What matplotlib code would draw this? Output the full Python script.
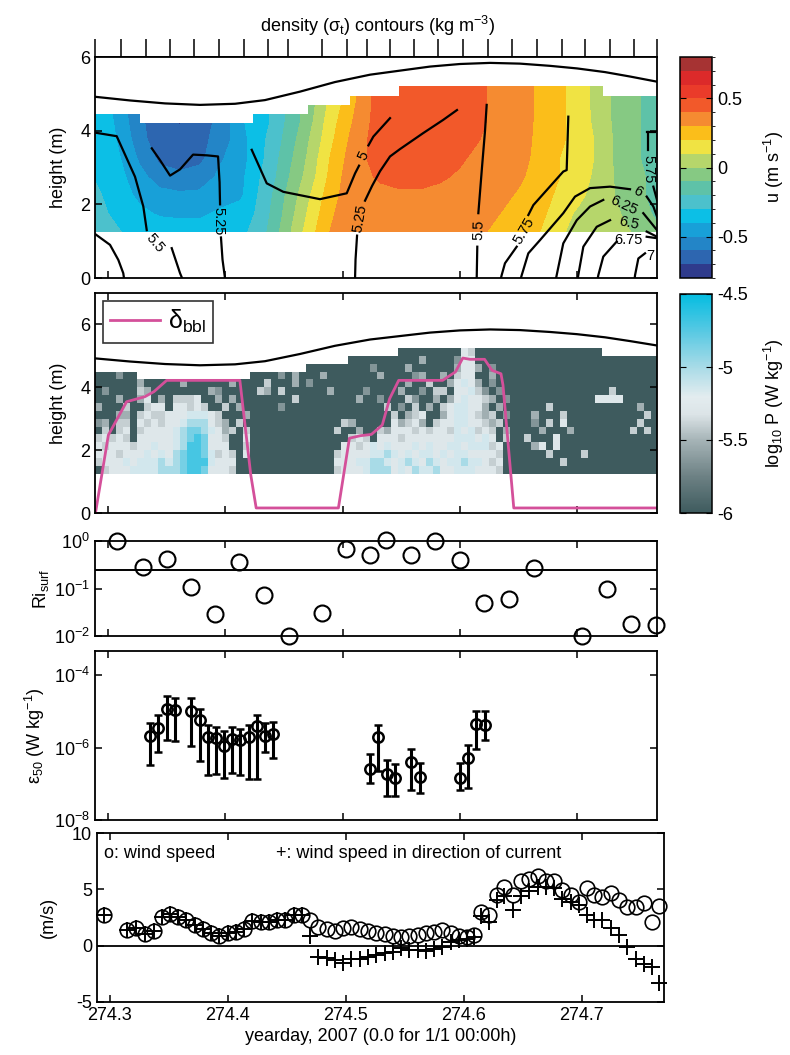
import numpy as np
import matplotlib
matplotlib.use('Agg')
import matplotlib.pyplot as plt
from matplotlib.colors import ListedColormap, BoundaryNorm, LinearSegmentedColormap

plt.rcParams['font.family'] = ['Liberation Sans', 'DejaVu Sans']
plt.rcParams['mathtext.fontset'] = 'custom'
plt.rcParams['mathtext.rm'] = 'Liberation Sans'
plt.rcParams['mathtext.it'] = 'Liberation Sans:italic'
plt.rcParams['axes.unicode_minus'] = False
plt.rcParams['font.size'] = 13
plt.rcParams['axes.linewidth'] = 1.3

# ---------------- data ----------------
# panel 1: along-channel velocity u (m/s), columns = time, values bottom -> top
u_t = [274.289, 274.302, 274.315, 274.327, 274.344, 274.361, 274.378, 274.396,
       274.413, 274.425, 274.438, 274.451, 274.464, 274.477, 274.489, 274.502,
       274.515, 274.532, 274.549, 274.566, 274.583, 274.600, 274.617, 274.634,
       274.651, 274.668, 274.685, 274.702, 274.719, 274.737, 274.754, 274.768]
u_h = [1.25, 1.75, 2.25, 2.75, 3.25, 3.75, 4.25, 4.75, 5.25]
u_cols = [
    [-0.22, -0.24, -0.27, -0.31, -0.33, -0.34, -0.35, -0.35, -0.35],
    [-0.25, -0.31, -0.34, -0.36, -0.36, -0.37, -0.38, -0.40, -0.40],
    [-0.32, -0.35, -0.38, -0.40, -0.42, -0.45, -0.48, -0.50, -0.50],
    [-0.33, -0.38, -0.42, -0.46, -0.52, -0.57, -0.58, -0.60, -0.60],
    [-0.35, -0.41, -0.46, -0.56, -0.62, -0.65, -0.66, -0.66, -0.66],
    [-0.35, -0.42, -0.48, -0.58, -0.64, -0.66, -0.71, -0.70, -0.70],
    [-0.35, -0.42, -0.48, -0.55, -0.63, -0.64, -0.65, -0.65, -0.65],
    [-0.33, -0.38, -0.45, -0.48, -0.51, -0.55, -0.57, -0.57, -0.57],
    [-0.32, -0.35, -0.42, -0.43, -0.45, -0.45, -0.42, -0.42, -0.42],
    [-0.28, -0.30, -0.32, -0.33, -0.35, -0.35, -0.35, -0.35, -0.35],
    [-0.18, -0.20, -0.22, -0.25, -0.27, -0.28, -0.30, -0.30, -0.30],
    [-0.05, -0.08, -0.10, -0.13, -0.15, -0.18, -0.20, -0.20, -0.20],
    [0.08, 0.05, 0.02, -0.02, -0.05, -0.07, -0.10, -0.10, -0.10],
    [0.20, 0.17, 0.14, 0.10, 0.08, 0.05, 0.02, 0.00, 0.00],
    [0.30, 0.28, 0.25, 0.22, 0.20, 0.17, 0.15, 0.12, 0.12],
    [0.35, 0.34, 0.33, 0.32, 0.30, 0.28, 0.25, 0.22, 0.22],
    [0.37, 0.37, 0.38, 0.38, 0.38, 0.37, 0.35, 0.33, 0.33],
    [0.36, 0.37, 0.38, 0.41, 0.44, 0.45, 0.45, 0.45, 0.45],
    [0.35, 0.37, 0.39, 0.42, 0.45, 0.47, 0.48, 0.48, 0.48],
    [0.35, 0.37, 0.39, 0.42, 0.45, 0.47, 0.48, 0.48, 0.48],
    [0.34, 0.36, 0.38, 0.41, 0.44, 0.46, 0.47, 0.47, 0.47],
    [0.33, 0.35, 0.37, 0.39, 0.41, 0.44, 0.45, 0.45, 0.45],
    [0.31, 0.33, 0.35, 0.36, 0.38, 0.40, 0.42, 0.42, 0.42],
    [0.28, 0.30, 0.32, 0.33, 0.34, 0.35, 0.36, 0.36, 0.36],
    [0.24, 0.26, 0.29, 0.31, 0.32, 0.33, 0.34, 0.34, 0.34],
    [0.20, 0.23, 0.26, 0.27, 0.28, 0.28, 0.28, 0.28, 0.28],
    [0.12, 0.14, 0.17, 0.20, 0.20, 0.22, 0.22, 0.22, 0.22],
    [0.05, 0.08, 0.12, 0.15, 0.15, 0.15, 0.15, 0.15, 0.15],
    [0.05, 0.05, 0.05, 0.06, 0.08, 0.08, 0.06, 0.05, 0.05],
    [0.02, 0.00, -0.02, -0.03, -0.05, -0.05, -0.05, -0.05, -0.05],
    [-0.02, -0.06, -0.08, -0.08, -0.10, -0.10, -0.10, -0.10, -0.10],
    [-0.08, -0.12, -0.15, -0.15, -0.15, -0.15, -0.15, -0.15, -0.15],
]
u_colors = ['#2f3b8c', '#2d66b0', '#2385c7', '#18a0d8', '#0cbfe6', '#4cc1cc',
            '#5ec2a8', '#86c983', '#b6d66b', '#f0e343', '#fbbe1a', '#f58b31',
            '#f2592a', '#ea3b2a', '#dc2a2a', '#a63333']

# top of the ADCP data (step boundary)
top_t = [274.2889, 274.3273, 274.4236, 274.4705, 274.5063, 274.5481, 274.7220, 274.7680]
top_h = [4.45, 4.22, 4.45, 4.70, 4.95, 5.20, 4.95]

# sea surface
surf_t = [274.2889, 274.3188, 274.3486, 274.3784, 274.4083, 274.4338, 274.4637, 274.4935,
          274.5234, 274.5489, 274.5745, 274.6001, 274.6257, 274.6512, 274.6768, 274.6998,
          274.7237, 274.7450, 274.7680]
surf_h = [4.92, 4.82, 4.74, 4.70, 4.73, 4.83, 5.06, 5.32, 5.52, 5.63, 5.74, 5.81, 5.84,
          5.82, 5.76, 5.69, 5.59, 5.47, 5.33]

# CTD profile times (top ticks)
ctd_t = [274.2889, 274.3111, 274.3321, 274.3529, 274.3736, 274.3946, 274.4162, 274.4367,
         274.4537, 274.4827, 274.5035, 274.5206, 274.5404, 274.5609, 274.5816, 274.6029,
         274.6237, 274.6442, 274.6655, 274.6868, 274.7067, 274.7280, 274.7487, 274.7678]

# sigma_t contour pieces (time, height)
sigma_lines = [
    ([274.2883, 274.3074, 274.3230, 274.3301, 274.3330], [3.95, 3.85, 2.75, 1.94, 1.30]),
    ([274.3543, 274.3614, 274.3631], [0.81, 0.13, 0.0]),
    ([274.2883, 274.3017, 274.3088, 274.3130, 274.3136], [1.21, 0.90, 0.49, 0.13, 0.0]),
    ([274.3373, 274.3443, 274.3529, 274.3614, 274.3725, 274.3844, 274.3938, 274.3951, 274.3955],
     [3.52, 3.20, 2.78, 2.95, 3.35, 3.33, 3.30, 2.60, 2.00]),
    ([274.3963, 274.3976, 274.3997], [1.10, 0.50, 0.0]),
    ([274.4225, 274.4353, 274.4494, 274.4807, 274.5035, 274.5106, 274.5140],
     [3.48, 2.57, 2.34, 2.14, 2.30, 2.84, 3.05]),
    ([274.5220, 274.5262, 274.5404], [3.60, 3.84, 4.34]),
    ([274.5106, 274.5110, 274.5123], [0.0, 0.50, 1.15]),
    ([274.5191, 274.5251, 274.5319, 274.5404, 274.5489, 274.5685, 274.5856, 274.5975],
     [2.10, 2.50, 2.90, 3.30, 3.50, 3.93, 4.29, 4.56]),
    ([274.6228, 274.6214, 274.6188, 274.6157], [4.70, 4.00, 3.00, 1.76]),
    ([274.6148, 274.6143], [0.85, 0.0]),
    ([274.6924, 274.6910, 274.6881, 274.6626, 274.6583], [4.38, 2.93, 2.89, 1.98, 1.71]),
    ([274.6484, 274.6384, 274.6356, 274.6350], [0.85, 0.40, 0.08, 0.0]),
    ([274.6520, 274.6527, 274.6583, 274.6683, 274.6881, 274.6981, 274.7109, 274.7280, 274.7450],
     [0.0, 0.08, 0.67, 1.03, 1.76, 2.21, 2.44, 2.48, 2.41]),
    ([274.7592, 274.7649, 274.7680], [2.21, 1.94, 1.67]),
    ([274.6820, 274.6825, 274.6881, 274.6996, 274.7109, 274.7222], [0.0, 0.08, 0.94, 1.57, 1.94, 2.12]),
    ([274.7563, 274.7680], [1.76, 1.30]),
    ([274.7005, 274.7009, 274.7052, 274.7166, 274.7280], [0.0, 0.08, 0.85, 1.39, 1.57]),
    ([274.7592, 274.7680], [1.26, 1.12]),
    ([274.7175, 274.7180, 274.7222, 274.7337], [0.0, 0.08, 0.58, 0.99]),
    ([274.7592, 274.7680], [1.12, 1.08]),
    ([274.7490, 274.7493, 274.7521, 274.7578], [0.0, 0.08, 0.53, 0.67]),
    ([274.7592, 274.7663], [3.97, 3.97]),
    ([274.7606, 274.7606], [3.97, 3.48]),
    ([274.7649, 274.7680], [2.48, 2.12]),
]
sigma_labels = [
    ('5.5', 274.3401, 0.95, -50), ('5.25', 274.3945, 1.55, -90),
    ('5', 274.5178, 3.32, 65), ('5.25', 274.5152, 1.62, 80),
    ('5.5', 274.6163, 1.32, 88), ('5.75', 274.6545, 1.28, 60),
    ('6', 274.7520, 2.34, -30), ('6.25', 274.7395, 1.98, -25),
    ('6.5', 274.7445, 1.50, -12), ('6.75', 274.7437, 1.02, 0),
    ('7', 274.7625, 0.60, 0), ('5.75', 274.7606, 2.95, -90),
]

# panel 2: log10 P, one char per cell (digit -> level, '.' = no data), rows top -> bottom
p_digit_levels = [-6.0, -5.8, -5.65, -5.52, -5.4, -5.28, -5.15, -5.0, -4.85, -4.7]
p_rows = [
    ["......", ".....", "......", ".....", "........", "......", ".......", "000000", "0005400", "0000", "000000000000", "........"],
    ["......", ".....", "......", ".....", "........", "......", "0000000", "000300", "0025500", "0000", "000000000000", "00000000"],
    ["......", ".....", "......", ".....", "........", "000000", "0002000", "030000", "0035530", "2000", "000000000000", "00000000"],
    ["000200", ".....", "......", ".....", "00002030", "003000", "0000300", "002300", "3045500", "3000", "000000000000", "00000000"],
    ["000000", "30000", "030000", "00300", "00400030", "200000", "0000000", "030040", "0356530", "2000", "000000000000", "00000000"],
    ["020000", "43000", "000003", "20000", "04304000", "000300", "0020000", "300204", "4055642", "0200", "000000000000", "04000000"],
    ["000300", "35030", "444500", "30300", "00000040", "000000", "0300200", "042003", "0356554", "3020", "000000000005", "55500000"],
    ["300040", "04550", "554540", "04030", "00002000", "000000", "0000040", "204030", "4566553", "0300", "000040000000", "00000300"],
    ["000330", "45445", "556665", "40003", "00000000", "000000", "0000004", "034500", "3566543", "4020", "003000400000", "00000040"],
    ["230440", "54545", "567775", "43040", "00000000", "000004", "3000005", "345304", "5566554", "3400", "002040500000", "00000400"],
    ["040450", "45555", "678876", "53404", "00000000", "000040", "0300435", "554545", "5465645", "4030", "000300030000", "00004040"],
    ["454540", "55555", "678985", "54005", "00000000", "000000", "4540555", "455555", "5566656", "5040", "040005000000", "00000000"],
    ["545554", "55655", "679985", "55004", "00000000", "000005", "5456565", "556565", "5665666", "4500", "003505000000", "00000000"],
    ["555455", "56565", "789986", "45405", "00000000", "000045", "5556676", "565665", "6566555", "5400", "000040000400", "00000000"],
    ["455565", "66676", "789996", "55500", "00000000", "000055", "5667765", "676576", "5667665", "4500", "000000400000", "00000000"],
    ["045556", "66677", "789985", "55400", "00000000", "000045", "5567775", "657667", "5566655", "5400", "000000000000", "00000000"],
]

# bottom boundary layer thickness
bbl_t = [274.2893, 274.3003, 274.3158, 274.3314, 274.3391, 274.3500, 274.4124, 274.4217,
         274.4263, 274.4964, 274.5058, 274.5152, 274.5245, 274.5338, 274.5401, 274.5478,
         274.5852, 274.5962, 274.6024, 274.6086, 274.6210, 274.6273, 274.6350, 274.6367,
         274.6459, 274.7680]
bbl_h = [0.0, 2.48, 3.54, 3.70, 3.86, 4.22, 4.22, 1.21, 0.16, 0.16, 2.38, 2.46, 2.50,
         2.80, 3.64, 4.22, 4.22, 4.49, 4.93, 4.89, 4.89, 4.54, 4.43, 4.07, 0.16, 0.16]

# panel 3: surface Richardson number
ri_t = [274.308, 274.3295, 274.350, 274.3705, 274.391, 274.412, 274.433, 274.454, 274.482,
        274.5026, 274.523, 274.537, 274.5585, 274.579, 274.600, 274.6205, 274.6415, 274.663,
        274.704, 274.725, 274.746, 274.767]
ri = [1.0, 0.28, 0.41, 0.109, 0.0286, 0.37, 0.072, 0.0100, 0.030, 0.67, 0.51, 1.03, 0.51,
      1.0, 0.40, 0.049, 0.059, 0.275, 0.0100, 0.096, 0.018, 0.017]
ri_crit = 0.25

# panel 4: epsilon at 50 (log10 values)
eps_t = [274.3358, 274.3426, 274.3499, 274.3567, 274.3708, 274.3780, 274.3849, 274.3921,
         274.3989, 274.4058, 274.4126, 274.4198, 274.4267, 274.4335, 274.4407, 274.5230,
         274.5303, 274.5375, 274.5448, 274.5584, 274.5657, 274.5998, 274.6070, 274.6139,
         274.6211]
eps_log = [-5.68, -5.47, -4.92, -4.97, -4.99, -5.24, -5.70, -5.74, -5.95, -5.77, -5.79, -5.72,
           -5.40, -5.68, -5.63, -6.58, -5.72, -6.72, -6.85, -6.39, -6.81, -6.83, -6.28, -5.36, -5.38]
eps_hi_log = [-5.31, -5.10, -4.57, -4.62, -4.64, -4.94, -5.37, -5.43, -5.54, -5.43, -5.48, -5.37,
              -5.10, -5.31, -5.28, -6.18, -5.37, -6.35, -6.46, -6.05, -6.42, -6.43, -5.94, -4.99, -4.99]
eps_lo_log = [-6.48, -6.12, -5.79, -5.83, -5.95, -6.37, -6.77, -6.74, -6.83, -6.69, -6.77, -6.86,
              -6.86, -6.12, -6.30, -6.97, -6.65, -7.34, -7.34, -7.18, -7.25, -7.18, -7.11, -6.03, -5.79]

# panel 5: wind
wind_t = [274.2950,
          274.3150, 274.3225, 274.3298, 274.3372,
          274.3442, 274.3512, 274.3580, 274.3650, 274.3720, 274.3790, 274.3860, 274.3930, 274.4000, 274.4070,
          274.4140, 274.4210, 274.4280, 274.4350, 274.4420, 274.4490, 274.4560, 274.4630, 274.4700, 274.4770,
          274.4840, 274.4910, 274.4980, 274.5050, 274.5120, 274.5190, 274.5260, 274.5330, 274.5400, 274.5470,
          274.5540, 274.5610, 274.5680, 274.5750, 274.5820, 274.5890, 274.5960, 274.6030, 274.6090,
          274.6148, 274.6218, 274.6286, 274.6345, 274.6415, 274.6486, 274.6556, 274.6627, 274.6697, 274.6768,
          274.6838, 274.6909, 274.6979, 274.7049, 274.7106, 274.7176, 274.7247, 274.7317, 274.7387, 274.7458,
          274.7528, 274.7595, 274.7660]
wind_speed = [2.73,
              1.35, 1.58, 1.05, 1.30,
              2.55, 2.85, 2.58, 2.32, 1.84, 1.50, 1.10, 0.84, 1.13, 1.20,
              1.47, 2.20, 2.14, 2.14, 2.25, 2.32, 2.73, 2.73, 2.29, 1.69,
              1.45, 1.30, 1.54, 1.69, 1.50, 1.30, 1.15, 1.00, 0.88, 0.80,
              0.86, 0.95, 1.10, 1.25, 1.39, 1.10, 0.85, 0.80, 0.95,
              3.00, 2.75, 4.51, 5.25, 4.51, 5.78, 5.90, 6.14, 5.78, 5.78,
              4.96, 4.51, 3.92, 5.10, 4.51, 4.36, 4.66, 4.07, 3.47, 3.47,
              3.77, 2.14, 3.53]
wind_along = [2.73,
              1.35, 1.58, 1.05, 1.30,
              2.55, 2.85, 2.58, 2.32, 1.84, 1.50, 1.10, 0.84, 1.13, 1.20,
              1.47, 2.20, 2.14, 2.14, 2.25, 2.32, 2.73, 2.73, 0.90, -0.98,
              -1.13, -1.28, -1.52, -1.22, -1.22, -0.98, -0.83, -0.68, -0.53, -0.24,
              -0.39, -0.39, -0.45, -0.33, -0.15, 0.36, 0.51, 0.57, 0.80,
              2.60, 2.10, 4.07, 4.40, 3.20, 4.40, 4.81, 5.20, 5.25, 5.10,
              4.10, 3.90, 3.62, 2.73, 2.25, 2.25, 1.60, 0.95, -0.10, -1.20,
              -1.65, -1.90, -3.35]

xticks = [274.3, 274.4, 274.5, 274.6, 274.7]
xticklabels = ['274.3', '274.4', '274.5', '274.6', '274.7']

# ---------------- figure ----------------
W, H = 790, 1055
fig = plt.figure(figsize=(W / 100, H / 100), dpi=100)


def box(l, t, r, b):
    return [l / W, 1 - b / H, (r - l) / W, (b - t) / H]


XLIM = (274.2889, 274.7680)
PINK = '#d4509a'


def style(ax, xlim=XLIM):
    ax.set_xlim(*xlim)
    ax.set_xticks(xticks)
    ax.tick_params(which='both', direction='in', top=True, right=True, length=5,
                   width=1.1, labelsize=13, labelbottom=False)


# ---- panel 1 ----
ax1 = fig.add_axes(box(95, 57, 657, 278))
u_cmap = ListedColormap(u_colors)
u_levels = np.linspace(-0.8, 0.8, 17)
u_norm = BoundaryNorm(u_levels, u_cmap.N)
cf = ax1.contourf(u_t, u_h, np.array(u_cols).T, levels=u_levels, cmap=u_cmap, norm=u_norm, zorder=1)
ax1.fill_between(top_t, top_h + [top_h[-1]], 7, step='post', color='white', lw=0, zorder=2)
ax1.plot(surf_t, surf_h, color='k', lw=1.6, zorder=4)
for lt, lh in sigma_lines:
    ax1.plot(lt, lh, color='k', lw=1.6, zorder=4)
for txt, lt, lh, rot in sigma_labels:
    ax1.text(lt, lh, txt, fontsize=10.5, rotation=rot, ha='center', va='center',
             rotation_mode='anchor', zorder=5)
style(ax1)
ax1.set_ylim(0, 6)
ax1.set_yticks([0, 2, 4, 6])
ax1.set_ylabel('height (m)', fontsize=13)
ax1.yaxis.set_label_coords(-0.05, 0.5)
sec = ax1.secondary_xaxis('top')
sec.set_xticks(ctd_t)
sec.tick_params(direction='out', length=13, width=1.1, labeltop=False)
fig.text(378 / W, 1 - 26 / H, 'density (σ$_{\\rm t}$) contours (kg m$^{-3}$)',
         ha='center', va='center', fontsize=13)

cax1 = fig.add_axes(box(680, 57, 712, 278))
cb1 = fig.colorbar(cf, cax=cax1, ticks=[-0.5, 0, 0.5])
cb1.ax.set_yticklabels(['-0.5', '0', '0.5'])
cb1.ax.tick_params(direction='in', left=True, right=True, length=4, labelsize=13)
cb1.outline.set_linewidth(1.1)
cb1.set_label('u (m s$^{-1}$)', fontsize=13, labelpad=10)

# ---- panel 2 ----
ax2 = fig.add_axes(box(95, 293, 657, 513))
P = np.full((len(p_rows), 80), np.nan)
for i, segs in enumerate(p_rows):
    for j, ch in enumerate(''.join(segs)):
        if ch != '.':
            P[len(p_rows) - 1 - i, j] = p_digit_levels[int(ch)]
P = np.ma.masked_invalid(P)
p_t_edges = np.linspace(274.289, 274.769, 81)
p_h_edges = np.linspace(1.25, 5.25, 17)
p_cmap = LinearSegmentedColormap.from_list('p', [
    (0.0, '#3e5b5e'), (0.167, '#6d8184'), (0.333, '#a6b4b7'), (0.45, '#dce4e7'),
    (0.53, '#e3ecef'), (0.667, '#a8dbe7'), (0.83, '#58c9e3'), (1.0, '#05bde1')])
mesh = ax2.pcolormesh(p_t_edges, p_h_edges, P, cmap=p_cmap, vmin=-6, vmax=-4.5, shading='flat')
ax2.plot(surf_t, surf_h, color='k', lw=1.6)
ax2.plot(bbl_t, bbl_h, color=PINK, lw=2, label='δ$_{\\rm bbl}$')
leg = ax2.legend(loc='upper left', fontsize=18, handlelength=2.0, fancybox=False,
                 borderaxespad=0.3, borderpad=0.3, handletextpad=0.3)
leg.get_frame().set_edgecolor('k')
leg.get_frame().set_linewidth(1.2)
style(ax2)
ax2.set_ylim(0, 7)
ax2.set_yticks([0, 2, 4, 6])
ax2.set_ylabel('height (m)', fontsize=13)
ax2.yaxis.set_label_coords(-0.05, 0.5)

cax2 = fig.add_axes(box(680, 294, 712, 513))
cb2 = fig.colorbar(mesh, cax=cax2, ticks=[-6, -5.5, -5, -4.5])
cb2.ax.set_yticklabels(['-6', '-5.5', '-5', '-4.5'])
cb2.ax.tick_params(direction='in', left=True, right=True, length=4, labelsize=13)
cb2.outline.set_linewidth(1.1)
cb2.set_label('log$_{10}$ P (W kg$^{-1}$)', fontsize=13, labelpad=10)

# ---- panel 3 ----
ax3 = fig.add_axes(box(95, 541, 657, 636))
ax3.set_yscale('log')
ax3.plot(ri_t, ri, 'o', mfc='none', mec='k', ms=11.5, mew=1.5, clip_on=False, zorder=5)
ax3.axhline(ri_crit, color='k', lw=1.4)
style(ax3)
ax3.set_ylim(1e-2, 1)
ax3.set_yticks([1e-2, 1e-1, 1])
ax3.minorticks_off()
ax3.set_ylabel('Ri$_{\\rm surf}$', fontsize=13)
ax3.yaxis.set_label_coords(-0.078, 0.5)

# ---- panel 4 ----
ax4 = fig.add_axes(box(95, 651, 657, 820))
ax4.set_yscale('log')
eps = 10 ** np.array(eps_log)
eps_hi = 10 ** np.array(eps_hi_log)
eps_lo = 10 ** np.array(eps_lo_log)
ax4.errorbar(eps_t, eps, yerr=[eps - eps_lo, eps_hi - eps], fmt='o', mfc='none', mec='k',
             ms=7.5, mew=1.8, ecolor='k', elinewidth=2.2, capsize=3, capthick=2.2)
style(ax4)
ax4.set_ylim(1e-8, 10 ** -3.33)
ax4.set_yticks([1e-8, 1e-6, 1e-4])
ax4.minorticks_off()
ax4.set_ylabel('ε$_{50}$ (W kg$^{-1}$)', fontsize=13)
ax4.yaxis.set_label_coords(-0.085, 0.5)

# ---- panel 5 ----
ax5 = fig.add_axes(box(97, 833, 664, 1002))
ax5.plot(wind_t, wind_speed, 'o', mfc='none', mec='k', ms=10.5, mew=1.2, clip_on=False)
ax5.plot(wind_t, wind_along, '+', color='k', ms=11, mew=1.4, clip_on=False)
ax5.axhline(0, color='k', lw=1.3)
style(ax5, xlim=(274.2893, 274.7699))
ax5.tick_params(labelbottom=True)
ax5.set_xticklabels(xticklabels)
ax5.set_ylim(-5, 10)
ax5.set_yticks([-5, 0, 5, 10])
ax5.set_ylabel('(m/s)', fontsize=13)
ax5.yaxis.set_label_coords(-0.07, 0.5)
ax5.set_xlabel('yearday, 2007 (0.0 for 1/1 00:00h)', fontsize=13, labelpad=3)
ax5.text(274.295, 8.2, 'o: wind speed', fontsize=13, va='center')
ax5.text(274.441, 8.2, '+: wind speed in direction of current', fontsize=13, va='center')

fig.savefig('out.png', dpi=100)
